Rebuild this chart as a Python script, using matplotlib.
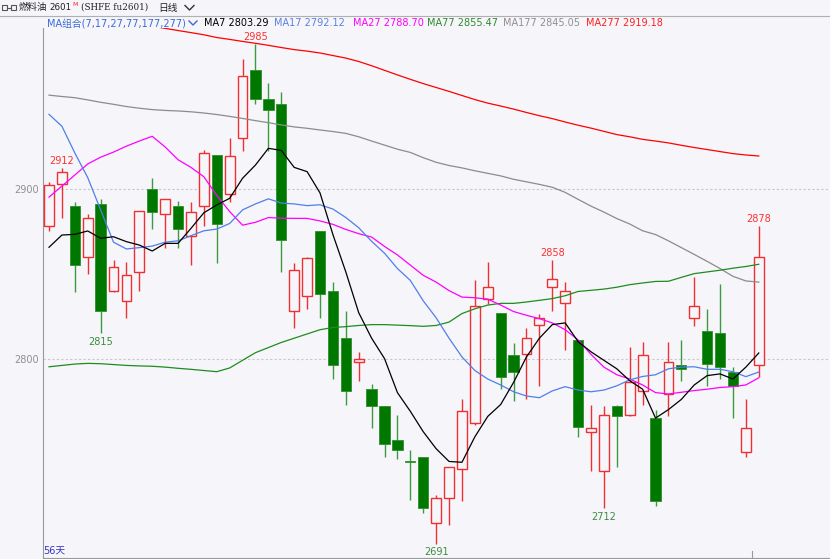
import matplotlib.pyplot as plt
from matplotlib.lines import Line2D
from matplotlib.patches import Rectangle

plt.rcParams['font.family'] = ['DejaVu Sans', 'Noto Sans CJK SC']

# daily candles, fuel oil fu2601 (56 days)
opens = [2878, 2903, 2890, 2860, 2891, 2840, 2834, 2851, 2900, 2885, 2890, 2872, 2890, 2920,
         2897, 2930, 2970, 2953, 2950, 2828, 2837, 2875, 2840, 2812, 2798, 2782, 2772, 2752,
         2740, 2742, 2703, 2718, 2735, 2762, 2835, 2827, 2802, 2803, 2820, 2842, 2833, 2811,
         2757, 2734, 2772, 2767, 2781, 2765, 2779, 2796, 2824, 2816, 2815, 2792, 2745, 2796]
highs = [2904, 2912, 2892, 2885, 2894, 2858, 2857, 2887, 2906, 2894, 2893, 2892, 2923, 2920,
         2930, 2976, 2985, 2962, 2957, 2856, 2860, 2875, 2845, 2828, 2804, 2785, 2772, 2767,
         2746, 2742, 2720, 2736, 2776, 2846, 2857, 2827, 2809, 2818, 2826, 2858, 2845, 2811,
         2773, 2772, 2773, 2807, 2810, 2770, 2810, 2811, 2848, 2829, 2844, 2795, 2776, 2878]
lows = [2875, 2883, 2839, 2850, 2815, 2839, 2824, 2840, 2876, 2865, 2865, 2855, 2878, 2856,
        2892, 2922, 2950, 2922, 2851, 2818, 2829, 2824, 2788, 2773, 2787, 2759, 2742, 2741,
        2717, 2709, 2691, 2702, 2716, 2761, 2832, 2782, 2775, 2776, 2784, 2828, 2805, 2754,
        2734, 2712, 2736, 2766, 2773, 2713, 2766, 2787, 2819, 2784, 2788, 2765, 2742, 2789]
closes = [2902, 2910, 2855, 2883, 2828, 2854, 2849, 2887, 2886, 2894, 2876, 2886, 2921, 2879,
          2919, 2966, 2953, 2946, 2870, 2852, 2859, 2838, 2796, 2781, 2800, 2772, 2750, 2746,
          2739, 2712, 2718, 2736, 2769, 2831, 2842, 2789, 2792, 2812, 2824, 2847, 2840, 2760,
          2759, 2767, 2766, 2786, 2802, 2716, 2798, 2794, 2831, 2797, 2795, 2784, 2759, 2860]

ma7 = [2865.5, 2872.7, 2873.1, 2875.1, 2870.8, 2871.7, 2868.8, 2866.8, 2863.3, 2867.8, 2867.8,
       2876.6, 2885.8, 2890.4, 2894.3, 2906.1, 2913.9, 2923.7, 2922.5, 2912.5, 2910, 2897.5,
       2873, 2851, 2827, 2812, 2800, 2780, 2769, 2757, 2747, 2739.5, 2739, 2754, 2766, 2773,
       2786, 2801, 2812, 2820, 2821, 2810, 2804, 2799, 2794, 2787, 2782, 2765, 2770, 2776,
       2784.5, 2790, 2791, 2788, 2795, 2803.3]
ma17 = [2943.7, 2936.7, 2921, 2906.5, 2887.5, 2868.5, 2864.5, 2865.3, 2866.2, 2868.5, 2869.3,
        2872.3, 2875.2, 2876.2, 2879.5, 2887.5, 2891, 2894, 2891.5, 2891, 2890, 2890.5, 2888,
        2883, 2877, 2869, 2862, 2853, 2846, 2834, 2824, 2812, 2801, 2793, 2788, 2784.5, 2780.5,
        2778, 2777, 2781, 2783.5, 2781.5, 2780.5, 2781.5, 2784, 2787.5, 2789.5, 2790.5, 2794,
        2795, 2795.2, 2793.7, 2793.7, 2792.3, 2789.4, 2792.1]
ma27 = [2895, 2901.5, 2908, 2914.5, 2918.5, 2921.5, 2925, 2928, 2930.8, 2924.5, 2917, 2912.5,
        2907, 2896, 2886.5, 2878.5, 2880.2, 2883, 2882.6, 2882.5, 2882.5, 2881, 2879, 2876,
        2873.5, 2871.5, 2866, 2861, 2855, 2849, 2845, 2840, 2836.2, 2835.8, 2835, 2831.5,
        2827.7, 2825.5, 2823.5, 2821, 2817, 2811, 2802.5, 2795, 2790.5, 2788, 2784.5, 2780,
        2779.2, 2780.2, 2781.2, 2782, 2783, 2783.5, 2784.5, 2788.7]
ma77 = [2795.2, 2796, 2796.8, 2797.2, 2797, 2796.5, 2796, 2795.7, 2795.5, 2795, 2794.3, 2793.7,
        2793, 2792.3, 2794.5, 2799, 2803.5, 2806.5, 2809.5, 2812, 2814.5, 2817, 2818.3, 2818.8,
        2819.5, 2820, 2820, 2819.7, 2819.4, 2819, 2819.5, 2821.5, 2826.5, 2829.3, 2831.5,
        2832.5, 2832.5, 2833.3, 2834.3, 2835.3, 2837, 2839.5, 2840.2, 2840.9, 2842, 2843.5,
        2844.5, 2845.4, 2845.5, 2847.8, 2850, 2851, 2852, 2853.2, 2854.2, 2855.5]
ma177 = [2955, 2954.2, 2953.5, 2952.2, 2950.8, 2949.6, 2948.3, 2947.3, 2946.5, 2946, 2945.7,
         2945.2, 2944.5, 2943.6, 2942.5, 2941.3, 2940, 2938.8, 2937.5, 2936.3, 2935.5, 2934.5,
         2933.6, 2932.5, 2930.5, 2928, 2925.6, 2923.2, 2921.3, 2918.2, 2915.5, 2913.6, 2912.2,
         2910.5, 2909, 2907.5, 2905.5, 2904, 2902.5, 2900.8, 2897.8, 2893.7, 2889.7, 2886.2,
         2882.4, 2879.2, 2875.2, 2873, 2869.3, 2865.3, 2861.3, 2857.2, 2853, 2848.4, 2845.7, 2845]
ma277 = [3007, 3005.5, 3004, 3002.5, 3001, 2999.5, 2998, 2996.8, 2995.5, 2994.3, 2993, 2991.8,
         2990.5, 2988.9, 2987.8, 2986.6, 2985.5, 2984.3, 2983, 2981.8, 2980.9, 2979.8, 2978.3,
         2976.8, 2974.8, 2972.3, 2969.6, 2966.9, 2964.3, 2961.8, 2959.5, 2957.2, 2954.8, 2952.4,
         2950.3, 2948.6, 2946.8, 2944.8, 2942.9, 2941.2, 2939.2, 2937.3, 2935.6, 2933.7, 2931.8,
         2930.5, 2929, 2928, 2926.9, 2925.5, 2924.2, 2923, 2921.8, 2920.6, 2919.8, 2919.2]

ma_names = ['MA7', 'MA17', 'MA27', 'MA77', 'MA177', 'MA277']
ma_last = ['2803.29', '2792.12', '2788.70', '2855.47', '2845.05', '2919.18']

# marked extremes: (candle index, value, is_high)
marks = [(1, 2912, True), (4, 2815, False), (16, 2985, True), (30, 2691, False),
         (39, 2858, True), (43, 2712, False), (55, 2878, True)]

bg = '#F5F5FA'
up_col = '#F03030'
dn_col = '#007800'
ma_cols = ['#000000', '#4F7FE8', '#FF00FF', '#1E8C1E', '#8C8C8C', '#FF0000']
txt_cols = ['#000000', '#5A82E0', '#FF00FF', '#2E8B2E', '#909090', '#FF2020']

W, H = 830, 559
fig = plt.figure(figsize=(W / 100, H / 100), dpi=100, facecolor=bg)


def fx(x):
    return x / W


def fy(y):
    return 1 - y / H


ax = fig.add_axes([fx(43), fy(558), fx(830) - fx(43), fy(28) - fy(558)])
ax.set_facecolor(bg)
ax.set_xlim(-0.465, 60.52)
ax.set_ylim(2682.7, 2994.5)

# candles
for i in range(len(opens)):
    o, h, l, c = opens[i], highs[i], lows[i], closes[i]
    top, bot = max(o, c), min(o, c)
    if c >= o:
        ax.vlines(i, top, h, color=up_col, lw=1, zorder=2)
        ax.vlines(i, l, bot, color=up_col, lw=1, zorder=2)
        ax.add_patch(Rectangle((i - 0.38, bot), 0.76, max(top - bot, 0.6), facecolor=bg,
                               edgecolor=up_col, lw=1, zorder=3))
    else:
        ax.vlines(i, l, h, color='#3E9A3E', lw=1, zorder=2)
        ax.add_patch(Rectangle((i - 0.4, bot), 0.8, max(top - bot, 0.6), facecolor=dn_col,
                               edgecolor='#2E8F2E', lw=0.6, zorder=3))

xs = list(range(len(opens)))
for vals, col in zip([ma277, ma177, ma77, ma27, ma17, ma7], ma_cols[::-1]):
    ax.plot(xs, vals, color=col, lw=0.9, zorder=4)

for i, v, is_high in marks:
    ax.annotate(str(v), (i, v), xytext=(0, 1.5 if is_high else -2.5),
                textcoords='offset points', ha='center',
                va='bottom' if is_high else 'top', fontsize=7,
                color='#FF3030' if is_high else '#3C8C3C', zorder=5)

for lvl in (2800, 2900):
    ax.axhline(lvl, color='#C8C8C8', lw=0.8, ls=(0, (2, 2)), zorder=1)
ax.set_yticks([2800, 2900])
ax.set_yticklabels(['2800', '2900'])
ax.tick_params(axis='y', length=0, labelsize=7, labelcolor='#909090', pad=3)
ax.set_xticks([])
for s in ('top', 'right'):
    ax.spines[s].set_visible(False)
ax.spines['left'].set_color('#999999')
ax.spines['bottom'].set_color('#999999')

# small day separator tick at the bottom
fig.add_artist(Line2D([fx(752), fx(752)], [fy(551), fy(558)], color='#999999', lw=0.8))

fig.text(fx(43), fy(551), '56天', fontsize=7, color='#3535C0', va='center', ha='left')

# header: title row
fig.add_artist(Line2D([fx(0), fx(830)], [fy(15.5), fy(15.5)], color='#B0B0B0', lw=0.8))
fig.add_artist(Rectangle((fx(2), fy(10)), fx(5), fy(5) - fy(10), fill=False, ec='#555555',
                         lw=0.8))
fig.add_artist(Rectangle((fx(11), fy(10)), fx(5), fy(5) - fy(10), fill=False, ec='#555555',
                         lw=0.8))
fig.add_artist(Line2D([fx(7), fx(11)], [fy(7.5), fy(7.5)], color='#555555', lw=0.8))
fig.text(fx(19), fy(7.5), '燃料油', fontsize=6.8, color='#222222', va='center')
fig.text(fx(49), fy(7.5), '2601', fontsize=6.3, color='#222222', va='center')
fig.text(fx(72), fy(5), 'M', fontsize=4.5, color='#FF2020', va='center')
fig.text(fx(81), fy(7.5), '(SHFE fu2601)', fontsize=6.3, color='#222222', va='center',
         family='DejaVu Serif')
fig.text(fx(158), fy(7.5), '日线', fontsize=7, color='#222222', va='center')
fig.add_artist(Line2D([fx(185), fx(189.5), fx(194)], [fy(5.5), fy(10), fy(5.5)],
                      color='#333333', lw=1))

# header: MA legend row
fig.text(fx(47), fy(23), 'MA组合(7,17,27,77,177,277)', fontsize=7, color='#3A6BD8',
         va='center')
fig.add_artist(Line2D([fx(189), fx(193), fx(197)], [fy(21), fy(25), fy(21)],
                      color='#3A6BD8', lw=1))
starts = [204, 274, 353, 427, 503, 586]
for x0, name, val, col in zip(starts, ma_names, ma_last, txt_cols):
    fig.text(fx(x0), fy(23), f'{name} {val}', fontsize=7, color=col, va='center')

fig.savefig('out.png', dpi=100, facecolor=bg)
